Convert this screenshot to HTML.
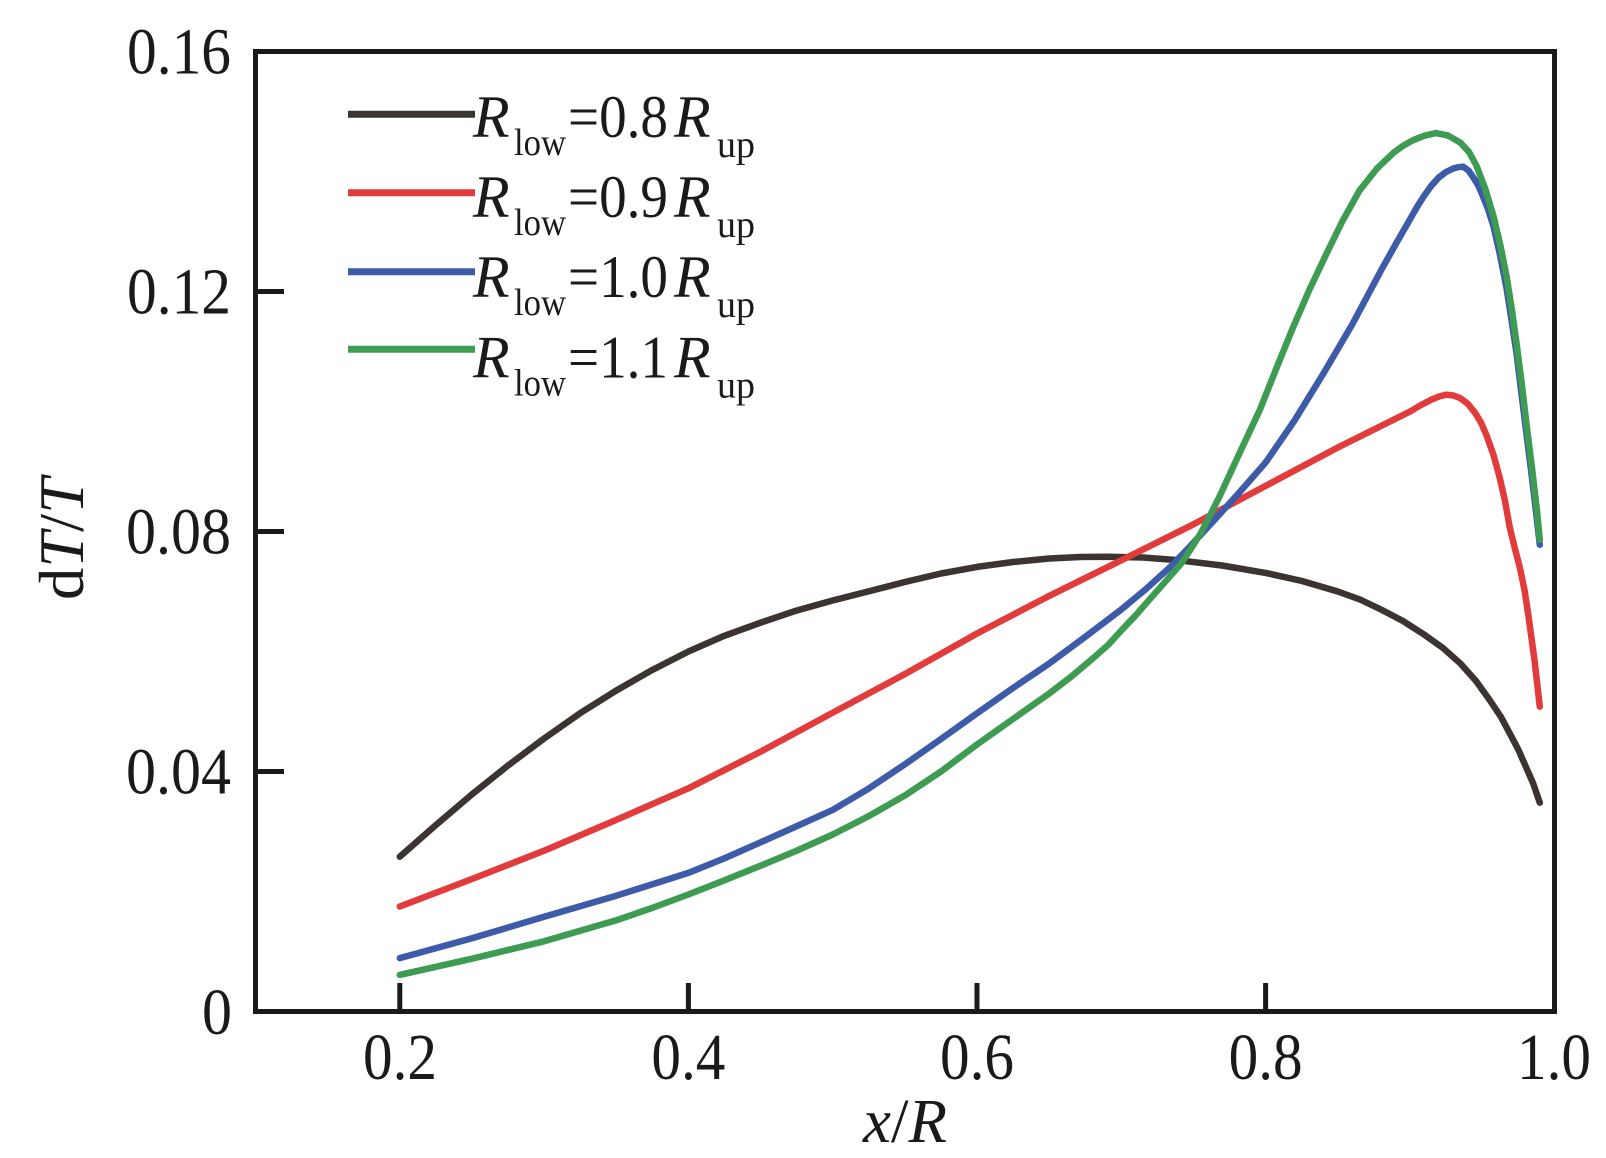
<!DOCTYPE html>
<html>
<head>
<meta charset="utf-8">
<style>
html,body{margin:0;padding:0;background:#fff;}
svg{display:block;}
text{font-family:"Liberation Serif","Times New Roman",serif;fill:#1a1a1a;}
</style>
</head>
<body>
<svg width="1606" height="1158" viewBox="0 0 1606 1158" xmlns="http://www.w3.org/2000/svg">
<rect x="0" y="0" width="1606" height="1158" fill="#fff"/>

<!-- series -->
<g fill="none" stroke-width="6.5" stroke-linejoin="round" stroke-linecap="round">
<polyline stroke="#3b3431" points="399.8,856.7 436,824.9 472.0,794.3 508,765.5 544.1,738.5 580,713.3 616.3,690.5 652,670.1 688.4,651.5 724,635.9 760.6,622.7 796,610.7 832.7,600.5 868,591.5 904.9,582 941,573.5 977.0,566.9 1013,562 1049.2,558.5 1080,557 1106.9,556.7 1143,557.5 1179.0,560.3 1222,565.5 1265.6,572.9 1302,581 1337.8,591.5 1360,599.5 1381.0,609.5 1403,621 1424.3,634.7 1443,648 1460.4,663.5 1476,681 1489.3,699.5 1501,717 1510.9,735.5 1518.5,750 1525.3,765.5 1533,783 1539.8,802.7"/>
<polyline stroke="#e23b3b" points="399.8,906.5 472,879 544.1,850.7 616,820 688.4,788.3 760,752 832.7,712.7 905,674 977.0,633.5 1049,596 1121.3,560.3 1193.5,524.3 1265.6,485.9 1337.8,447.5 1410.1,411.5 1421,405 1431.7,399.5 1439,396.5 1446.2,394.7 1453.5,395.5 1460.6,398.3 1468,404 1475.0,412.7 1481,422.5 1486.6,435.5 1493.5,455 1499.5,476.9 1505,501 1509.6,526.7 1514.5,547 1519.7,566.9 1524.5,590 1528.4,615.5 1534.5,660 1539.8,706.7"/>
<polyline stroke="#3d5ba9" points="399.8,958.1 472.0,938.3 544.1,916.7 616.3,895.7 688.4,872.9 724,858.5 760.6,842.3 796,826.5 832.7,809.9 868,789 904.9,764.3 941,739 977.0,713.3 1013,688 1049.2,663.5 1085,637 1121.3,609.5 1146,589 1170.4,566.9 1190,546.5 1209.3,525.5 1236.7,495.5 1265.6,462.5 1294.5,420.5 1323.3,373.7 1352.2,324.5 1381.0,270.5 1395.5,244.5 1409.9,219.5 1417,207 1424.3,195.5 1431.5,185.5 1438.8,177.5 1446,172 1453.2,168.5 1458,167.2 1463.3,166.7 1468.5,170.5 1473.4,177.5 1478,185 1482.1,194.3 1488,209 1493.6,226.7 1500,255 1506.6,288.5 1511.5,320 1516.7,354.5 1521.5,394 1526.8,436.7 1532,478 1536.9,519.5 1539.8,544.7"/>
<polyline stroke="#3e9b52" points="399.8,974.9 472.0,958.7 544.1,941.3 616.3,920.3 652,908 688.4,894.5 724,880.5 760.6,865.7 796,851 832.7,834.5 868,816.5 904.9,795.5 941,771.5 977.0,744.5 1013,719 1049.2,693.5 1072,676 1093.9,657.5 1108,645 1121.3,630.5 1136,615 1150.2,598.7 1165,582 1180.4,564.5 1190.5,549.5 1200.7,533.3 1210,515.5 1219.4,496.7 1239.6,453 1259.9,409.7 1276.5,368 1293.0,327.5 1309.5,289.5 1326.2,254.3 1342.5,221 1359.4,190.7 1377,168.5 1394.0,152.3 1403.5,145.5 1412.8,140.3 1424,135.8 1435.9,133.1 1448,135.5 1460.4,142.7 1469,152 1476.4,165.5 1485,188 1493.6,216.5 1500.5,246 1506.6,276.5 1511.8,309 1516.7,344.3 1521.8,384 1526.8,426.5 1532,468 1536.9,509.9 1539.8,539.9"/>
</g>

<!-- frame -->
<rect x="255.5" y="51.5" width="1299" height="960" fill="none" stroke="#1a1a1a" stroke-width="5"/>

<!-- ticks -->
<g stroke="#1a1a1a" stroke-width="5">
<line x1="399.8" y1="983" x2="399.8" y2="1011"/>
<line x1="688.4" y1="983" x2="688.4" y2="1011"/>
<line x1="977.0" y1="983" x2="977.0" y2="1011"/>
<line x1="1265.6" y1="983" x2="1265.6" y2="1011"/>
<line x1="256" y1="771.5" x2="284" y2="771.5"/>
<line x1="256" y1="531.5" x2="284" y2="531.5"/>
<line x1="256" y1="291.5" x2="284" y2="291.5"/>
</g>

<!-- y tick labels -->
<g font-size="66" text-anchor="end">
<text x="231" y="73.5" textLength="104" lengthAdjust="spacingAndGlyphs">0.16</text>
<text x="231" y="313.5" textLength="104" lengthAdjust="spacingAndGlyphs">0.12</text>
<text x="231" y="553.5" textLength="105" lengthAdjust="spacingAndGlyphs">0.08</text>
<text x="231" y="793.5" textLength="105" lengthAdjust="spacingAndGlyphs">0.04</text>
<text x="232" y="1034" textLength="30" lengthAdjust="spacingAndGlyphs">0</text>
</g>

<!-- x tick labels -->
<g font-size="66" text-anchor="middle">
<text x="400" y="1079" textLength="74" lengthAdjust="spacingAndGlyphs">0.2</text>
<text x="688.4" y="1079" textLength="74" lengthAdjust="spacingAndGlyphs">0.4</text>
<text x="977" y="1079" textLength="74" lengthAdjust="spacingAndGlyphs">0.6</text>
<text x="1265.6" y="1079" textLength="74" lengthAdjust="spacingAndGlyphs">0.8</text>
<text x="1554" y="1079" textLength="74" lengthAdjust="spacingAndGlyphs">1.0</text>
</g>

<!-- axis titles -->
<text x="905" y="1142" font-size="62" text-anchor="middle" textLength="84" lengthAdjust="spacingAndGlyphs"><tspan font-style="italic">x</tspan>/<tspan font-style="italic">R</tspan></text>
<text transform="translate(83,539) rotate(-90)" font-size="64" text-anchor="middle" textLength="122" lengthAdjust="spacingAndGlyphs">d<tspan font-style="italic">T</tspan>/<tspan font-style="italic">T</tspan></text>

<!-- legend -->
<g stroke-width="7" stroke-linecap="butt">
<line x1="348" y1="114.3" x2="475" y2="114.3" stroke="#3b3431"/>
<line x1="348" y1="192.7" x2="475" y2="192.7" stroke="#e23b3b"/>
<line x1="348" y1="271.7" x2="475" y2="271.7" stroke="#3d5ba9"/>
<line x1="348" y1="349.3" x2="475" y2="349.3" stroke="#3e9b52"/>
</g>

<g>
<text x="473" y="137" font-size="60" font-style="italic">R</text>
<text x="514" y="155" font-size="38" textLength="52" lengthAdjust="spacingAndGlyphs">low</text>
<text x="568" y="137" font-size="60" textLength="100" lengthAdjust="spacingAndGlyphs">=0.8</text>
<text x="674" y="137" font-size="60" font-style="italic">R</text>
<text x="717" y="157" font-size="38" textLength="38" lengthAdjust="spacingAndGlyphs">up</text>

<text x="473" y="217" font-size="60" font-style="italic">R</text>
<text x="514" y="235" font-size="38" textLength="52" lengthAdjust="spacingAndGlyphs">low</text>
<text x="568" y="217" font-size="60" textLength="100" lengthAdjust="spacingAndGlyphs">=0.9</text>
<text x="674" y="217" font-size="60" font-style="italic">R</text>
<text x="717" y="237" font-size="38" textLength="38" lengthAdjust="spacingAndGlyphs">up</text>

<text x="473" y="297" font-size="60" font-style="italic">R</text>
<text x="514" y="315" font-size="38" textLength="52" lengthAdjust="spacingAndGlyphs">low</text>
<text x="568" y="297" font-size="60" textLength="100" lengthAdjust="spacingAndGlyphs">=1.0</text>
<text x="674" y="297" font-size="60" font-style="italic">R</text>
<text x="717" y="317" font-size="38" textLength="38" lengthAdjust="spacingAndGlyphs">up</text>

<text x="473" y="377.5" font-size="60" font-style="italic">R</text>
<text x="514" y="395.5" font-size="38" textLength="52" lengthAdjust="spacingAndGlyphs">low</text>
<text x="568" y="377.5" font-size="60" textLength="100" lengthAdjust="spacingAndGlyphs">=1.1</text>
<text x="674" y="377.5" font-size="60" font-style="italic">R</text>
<text x="717" y="397.5" font-size="38" textLength="38" lengthAdjust="spacingAndGlyphs">up</text>
</g>
</svg>
</body>
</html>
